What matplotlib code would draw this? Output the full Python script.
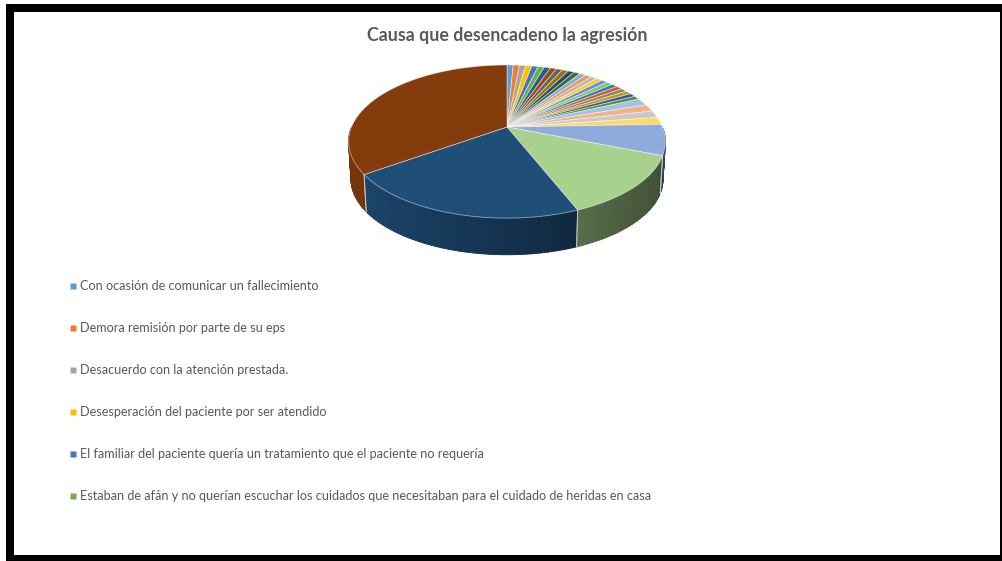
import numpy as np
import matplotlib
matplotlib.use("Agg")
import matplotlib.pyplot as plt
from matplotlib.lines import Line2D
from matplotlib.patches import Polygon, Rectangle
from matplotlib.colors import to_rgb

title = "Causa que desencadeno la agresión"
legend_labels = [
    "Con ocasión de comunicar un fallecimiento",
    "Demora remisión por parte de su eps",
    "Desacuerdo con la atención prestada.",
    "Desesperación del paciente por ser atendido",
    "El familiar del paciente quería un tratamiento que el paciente no requería",
    "Estaban de afán y no querían escuchar los cuidados que necesitaban para el cuidado de heridas en casa",
]
values = [1] * 24 + [2] * 4 + [8.5, 17, 28, 45.5]
colors = [
    "#5B9BD5", "#ED7D31", "#A5A5A5", "#FFC000", "#4472C4", "#70AD47",
    "#255E91", "#9E480E", "#636363", "#997300", "#264478", "#43682B",
    "#7CAFDD", "#F1975A", "#B7B7B7", "#FFCD33", "#698ED0", "#8CC168",
    "#327DC2", "#D26012", "#848484", "#CC9A00", "#335AA1", "#5A8A39",
    "#9DC3E6", "#F4B183", "#C9C9C9", "#FFD966", "#8FAADC", "#A9D18E",
    "#1F4E79", "#843C0C",
]

W, H = 1002, 561
fig = plt.figure(figsize=(W / 100, H / 100), dpi=100, facecolor="white")
ax = fig.add_axes([0, 0, 1, 1])
ax.set_xlim(0, W)
ax.set_ylim(H, 0)
ax.axis("off")

# picture frame
for xy, w, h in [((6, 4), 996, 8), ((6, 4), 8, 557), ((6, 555), 996, 6), ((1000, 4), 2, 557)]:
    ax.add_patch(Rectangle(xy, w, h, fc="black", ec="none", zorder=5))

# perspective view of the disc
CX, CY, R, A, P = 507.0, 127.0, 155.5, 73.8, 0.19
DEPTH, BOT = 37.0, 0.985


def project(theta, r=1.0, bottom=False):
    u, v = r * np.sin(theta), r * np.cos(theta)
    w = 1 + P * v
    x, y = R * u / w, A * v / w
    if bottom:
        return CX + BOT * x, CY - BOT * y + DEPTH + 1
    return CX + x, CY - y


cum = np.cumsum([0] + values) / np.sum(values) * 2 * np.pi
starts, ends = cum[:-1], cum[1:]

# side wall, front half only, with horizontal shading
for s, e, c in zip(starts, ends, colors):
    lo, hi = max(s, np.pi / 2 + 0.02), min(e, 3 * np.pi / 2)
    if hi <= lo:
        continue
    n = max(2, int((hi - lo) / 0.02))
    edges = np.linspace(lo, hi, n + 1)
    base = np.array(to_rgb(c))
    for t0, t1 in zip(edges[:-1], edges[1:]):
        t = np.linspace(t0, t1 + 0.004, 3)
        xt, yt = project(t)
        xb, yb = project(t[::-1], bottom=True)
        xm = (xt.mean() - (CX - 159)) / 318
        shade = 0.90 - 0.52 * xm
        col = base * shade
        ax.add_patch(Polygon(np.c_[np.r_[xt, xb], np.r_[yt, yb]], closed=True,
                             fc=col, ec=col, lw=0.6, zorder=2))
    for t in (lo, hi):
        if t in (s, e):
            xt, yt = project(t)
            xb, yb = project(t, bottom=True)
            ax.plot([xt, xb], [yt, yb], color="#c8ced6", lw=0.7, alpha=0.8, zorder=3)

# top of the disc
for s, e, c in zip(starts, ends, colors):
    t = np.linspace(s, e, max(3, int((e - s) / 0.01)))
    x, y = project(t)
    pts = np.c_[np.r_[CX, x], np.r_[CY, y]]
    ax.add_patch(Polygon(pts, closed=True, fc=c, ec=(1, 1, 1, 0.5), lw=0.6, zorder=4))

ax.text(507, 35, title, ha="center", va="center", fontsize=12.8, fontweight="bold",
        family="Lato", color="#595959")

handles = [Line2D([], [], ls="none", marker="s", ms=3.8, color=c, mec="none")
           for c in colors[:6]]
leg = ax.legend(handles, legend_labels, loc="upper left", bbox_to_anchor=(69 / W, 1 - 280 / H),
                frameon=False, labelcolor="#595959", handlelength=0.66,
                handletextpad=0.2, labelspacing=2.37, borderaxespad=0, borderpad=0,
                prop={"family": "Lato", "size": 9.13})
leg.set_zorder(6)

fig.savefig("out.png", dpi=100)
